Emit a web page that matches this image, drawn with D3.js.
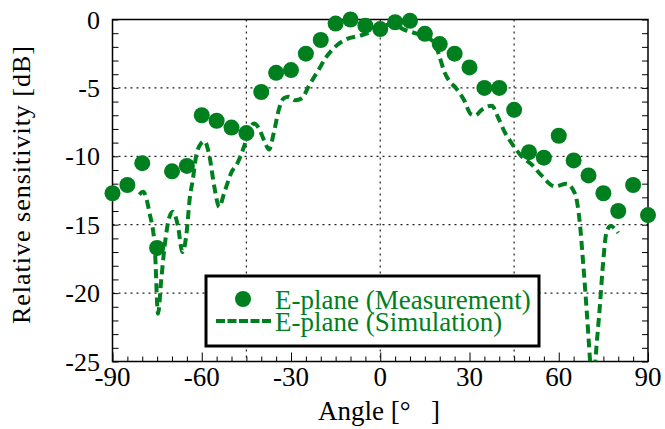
<!DOCTYPE html>
<html>
<head>
<meta charset="utf-8">
<script src="https://cdn.jsdelivr.net/npm/d3@7"></script>
<style>
  body { margin: 0; background: #fff; }
</style>
</head>
<body>
<div id="chart"></div>
<script>
// measured points, every 5 degrees
const measAngles = [-90,-85,-80,-75,-70,-65,-60,-55,-50,-45,-40,-35,-30,-25,-20,-15,-10,-5,0,5,10,15,20,25,30,35,40,45,50,55,60,65,70,75,80,85,90];
const measValues = [-12.7,-12.1,-10.5,-16.7,-11.1,-10.7,-7.0,-7.4,-7.9,-8.3,-5.3,-3.9,-3.7,-2.5,-1.5,-0.3,0.0,-0.45,-0.7,-0.2,-0.1,-1.05,-1.8,-2.5,-3.5,-5.0,-5.0,-6.6,-9.7,-10.1,-8.5,-10.3,-11.4,-12.7,-14.0,-12.1,-14.3];

// simulation curve
const simAngles = [-81,-79.7,-77.5,-75.8,-74.7,-73.6,-72.5,-70.8,-69.7,-68,-66.5,-65,-64.1,-63,-61.9,-60.2,-59.1,-57.4,-55.8,-54.1,-52.5,-51.4,-50.2,-48,-45.8,-44.1,-42.4,-40.8,-39.1,-37.4,-35.8,-34.1,-32.4,-30.8,-28.6,-26.3,-24.1,-20.8,-18,-15.2,-11.9,-6.3,-2,2,5,7.6,11,14.9,18.2,19.9,21.5,23.2,25.4,28.2,30.4,32,34.1,37.5,39.7,42,44.2,47.5,50.9,54.2,58.7,62.6,65.4,67.1,68.2,69.3,70.5,71.4,72.3,73.8,74.9,76,77.4,80];
const simValues = [-12.8,-12.6,-14.2,-16.6,-21.5,-19.0,-16.6,-14.4,-14.05,-15.1,-17.0,-15.4,-13.2,-11.7,-10.0,-9.05,-8.9,-10.0,-12.2,-13.7,-12.7,-12.0,-11.25,-10.5,-9.3,-8.1,-7.6,-7.95,-8.8,-9.5,-8.3,-6.6,-5.75,-5.65,-5.9,-5.75,-4.9,-3.7,-2.7,-2.0,-1.5,-1.15,-0.8,-0.4,-0.4,-0.7,-0.95,-1.25,-1.7,-2.7,-3.8,-4.5,-5.0,-5.9,-6.9,-7.0,-6.6,-6.3,-7.2,-8.3,-9.05,-10.0,-10.6,-11.4,-12.2,-12.0,-12.7,-14.9,-17.8,-21.0,-24.9,-28,-25,-21,-17.8,-15.6,-15.1,-15.6];

const xTickLabels = [-90,-60,-30,0,30,60,90];
const yTickLabels = [0,-5,-10,-15,-20,-25];
const xGrid = [-45,0,45];
const yGrid = [-5,-10,-15,-20];
const legendLabels = ['E-plane (Measurement)', 'E-plane (Simulation)'];

const width = 665, height = 429;
const green = '#007f1f';
const serif = "'Liberation Serif', serif";
const margin = {left: 112.5, right: 17, top: 19.5, bottom: 67.5};

var svg = d3.select('#chart').append('svg')
  .attr('width', width)
  .attr('height', height);

var x = d3.scaleLinear().domain([-90, 90]).range([margin.left, width - margin.right]);
var y = d3.scaleLinear().domain([0, -25]).range([margin.top, height - margin.bottom]);

svg.append('clipPath').attr('id', 'plot-clip')
  .append('rect')
  .attr('x', x(-90)).attr('y', y(0))
  .attr('width', x(90) - x(-90)).attr('height', y(-25) - y(0));

// grid
svg.selectAll('.gx').data(xGrid).enter().append('line')
  .attr('x1', d => x(d)).attr('x2', d => x(d))
  .attr('y1', y(0)).attr('y2', y(-25))
  .attr('stroke', '#222').attr('stroke-width', 1.2)
  .attr('stroke-dasharray', '2,4');
svg.selectAll('.gy').data(yGrid).enter().append('line')
  .attr('x1', x(-90)).attr('x2', x(90))
  .attr('y1', d => y(d)).attr('y2', d => y(d))
  .attr('stroke', '#222').attr('stroke-width', 1.2)
  .attr('stroke-dasharray', '2,4');

// ticks (inward) using d3 axes
var bottomAxis = svg.append('g').attr('transform', `translate(0,${y(-25)})`)
  .call(d3.axisBottom(x).tickValues(d3.range(-90, 91, 5)).tickSize(-5).tickFormat(''));
bottomAxis.selectAll('.tick line').filter(d => d % 30 === 0).attr('y2', -9);
var leftAxis = svg.append('g').attr('transform', `translate(${x(-90)},0)`)
  .call(d3.axisLeft(y).tickValues(d3.range(0, -26, -1)).tickSize(-6).tickFormat(''));
var rightAxis = svg.append('g').attr('transform', `translate(${x(90)},0)`)
  .call(d3.axisRight(y).tickValues(d3.range(0, -26, -1)).tickSize(-6).tickFormat(''));
[bottomAxis, leftAxis, rightAxis].forEach(a => {
  a.select('.domain').remove();
  a.selectAll('.tick line').attr('stroke', '#000').attr('stroke-width', 1);
});

// frame
svg.append('rect')
  .attr('x', x(-90)).attr('y', y(0))
  .attr('width', x(90) - x(-90)).attr('height', y(-25) - y(0))
  .attr('fill', 'none').attr('stroke', '#000').attr('stroke-width', 1.5);

// tick labels
svg.selectAll('.xl').data(xTickLabels).enter().append('text')
  .attr('x', d => x(d)).attr('y', 386)
  .attr('text-anchor', 'middle')
  .style('font-family', serif)
  .style('font-size', '27px')
  .text(d => d);
svg.selectAll('.yl').data(yTickLabels).enter().append('text')
  .attr('x', 100).attr('y', d => y(d) + 9)
  .attr('text-anchor', 'end')
  .style('font-family', serif)
  .style('font-size', '26px')
  .text(d => d);

// axis titles
svg.append('text')
  .attr('x', 379).attr('y', 420)
  .attr('text-anchor', 'middle')
  .style('font-family', serif)
  .style('font-size', '27px')
  .style('white-space', 'pre')
  .text('Angle [°   ]');
svg.append('text')
  .attr('transform', 'translate(30,185) rotate(-90)')
  .attr('text-anchor', 'middle')
  .style('font-family', serif)
  .style('font-size', '26px')
  .attr('textLength', 278)
  .text('Relative sensitivity [dB]');

// simulation
var simData = simAngles.map((a, i) => [a, simValues[i]]);
var line = d3.line()
  .x(d => x(d[0]))
  .y(d => y(d[1]))
  .curve(d3.curveMonotoneX);
svg.append('path')
  .datum(simData)
  .attr('clip-path', 'url(#plot-clip)')
  .attr('d', line)
  .attr('fill', 'none')
  .attr('stroke', green)
  .attr('stroke-width', 4)
  .attr('stroke-dasharray', '9,5');

// measurement
svg.selectAll('.meas').data(measAngles).enter().append('circle')
  .attr('cx', d => x(d))
  .attr('cy', (d, i) => y(measValues[i]))
  .attr('r', 8)
  .attr('fill', green);

// legend
var legend = svg.append('g');
legend.append('rect')
  .attr('x', 206).attr('y', 276)
  .attr('width', 333).attr('height', 70)
  .attr('fill', '#fff').attr('stroke', '#000').attr('stroke-width', 3);
legend.append('circle')
  .attr('cx', 243).attr('cy', 299).attr('r', 8)
  .attr('fill', green);
legend.append('line')
  .attr('x1', 216).attr('x2', 271)
  .attr('y1', 321).attr('y2', 321)
  .attr('stroke', green).attr('stroke-width', 4)
  .attr('stroke-dasharray', '9,2.5');
legend.selectAll('.lt').data(legendLabels).enter().append('text')
  .attr('x', 275)
  .attr('y', (d, i) => 309 + i * 22)
  .style('font-family', serif)
  .style('font-size', '27px')
  .attr('fill', green)
  .text(d => d);
</script>
</body>
</html>
